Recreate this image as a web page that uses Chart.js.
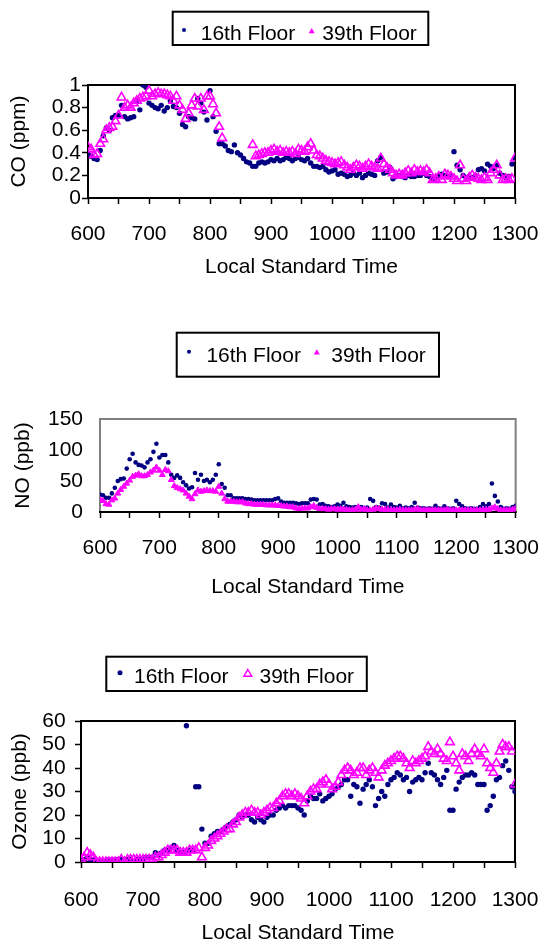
<!DOCTYPE html>
<html>
<head>
<meta charset="utf-8">
<script src="https://cdn.jsdelivr.net/npm/chart.js@4.4.1/dist/chart.umd.min.js"></script>
<style>
  html, body { margin: 0; padding: 0; background: #fff; overflow: hidden; }
  body { width: 541px; height: 943px; position: relative; }
  canvas { position: absolute; left: 0; }
</style>
</head>
<body>
<canvas id="coChart" width="541" height="300" style="top:0px"></canvas>
<canvas id="noChart" width="541" height="300" style="top:320px"></canvas>
<canvas id="o3Chart" width="541" height="320" style="top:630px"></canvas>
<script>
// sample times (local standard time, hhmm-like axis)
const times = [
    600, 605, 610, 615, 620, 625, 630, 635, 640, 645, 650, 655, 660, 665, 670, 675, 680, 685, 690, 695,
    700, 705, 710, 715, 720, 725, 730, 735, 740, 745, 750, 755, 760, 765, 770, 775, 780, 785, 790, 795,
    800, 805, 810, 815, 820, 825, 830, 835, 840, 845, 850, 855, 860, 865, 870, 875, 880, 885, 890, 895,
    900, 905, 910, 915, 920, 925, 930, 935, 940, 945, 950, 955, 960, 965, 970, 975, 980, 985, 990, 995,
    1000, 1005, 1010, 1015, 1020, 1025, 1030, 1035, 1040, 1045, 1050, 1055, 1060, 1065, 1070, 1075, 1080, 1085, 1090, 1095,
    1100, 1105, 1110, 1115, 1120, 1125, 1130, 1135, 1140, 1145, 1150, 1155, 1160, 1165, 1170, 1175, 1180, 1185, 1190, 1195,
    1200, 1205, 1210, 1215, 1220, 1225, 1230, 1235, 1240, 1245, 1250, 1255, 1260, 1265, 1270, 1275, 1280, 1285, 1290, 1295,
    1300
];

// CO (ppm)
const co16 = [
    .39, .37, .35, .34, .42, .55, .62, .60, .71, .73, .73, .82, .72, .70, .71, .72, .86, .78, 1.0, .98,
    .84, .82, .80, .79, .82, .77, .80, .86, .81, .80, .75, .65, .63, .72, .71, .70, .88, .84, .76, .69,
    .95, .72, .59, .48, .48, .46, .42, .41, .47, .40, .38, .35, .32, .31, .28, .28, .31, .32, .31, .32,
    .34, .33, .35, .33, .34, .36, .35, .33, .35, .36, .34, .33, .35, .31, .28, .28, .27, .28, .25, .23,
    .24, .25, .21, .22, .21, .19, .20, .22, .20, .22, .18, .20, .22, .21, .20, .33, .36, .22, .23, .27,
    .17, .19, .20, .19, .18, .20, .19, .19, .20, .20, .22, .20, .19, .17, .18, .20, .21, .20, .19, .20,
    .41, .29, .25, .20, .18, .19, .18, .20, .25, .26, .24, .30, .28, .26, .29, .22, .20, .18, .19, .30,
    .35
];
const co39 = [
    .45, .43, .38, .39, .48, .52, .60, .62, .63, .68, .73, .89, .80, .82, .80, .84, .86, .88, .89, .90,
    .95, .90, .92, .93, .92, .92, .91, .90, .86, .90, .82, .78, .70, .75, .82, .88, .81, .88, .78, .90,
    .90, .83, .75, .63, .53, null, null, null, null, null, null, null, null, null, .47, .37, .38, .39, .40, .40,
    .42, .43, .41, .42, .40, .41, .40, .41, .39, .43, .42, .41, .45, .48, .42, .38, .37, .35, .33, .32,
    .31, .30, .31, .32, .29, .27, .25, .27, .29, .28, .26, .28, .30, .28, .27, .26, .35, .30, .27, .25,
    .22, .20, .21, .20, .22, .24, .22, .25, .23, .24, .23, .25, .22, .16, .17, .19, .16, .21, .20, .19,
    .17, .15, .29, .17, .15, .18, .20, .18, .17, .16, .18, .16, .22, .25, .29, .20, .16, .17, .16, .17,
    .35
];

// NO (ppb)
const no16 = [
    28, 27, 23, 23, 30, 39, 50, 53, 54, 70, 85, 94, 80, 76, 75, 72, 80, 85, 97, 110,
    88, 92, 92, 80, 60, 55, 59, 55, 48, 43, 38, 40, 63, 52, 60, 50, 52, 48, 52, 60,
    77, 45, 39, 27, 27, 22, 22, 22, 22, 21, 21, 20, 19, 19, 19, 19, 19, 19, 19, 21,
    22, 17, 15, 15, 15, 15, 14, 13, 14, 14, 14, 20, 21, 20, 12, 13, 10, 9, 8, 9,
    12, 10, 15, 9, 8, 7, 8, 7, 8, 6, 7, 21, 18, 8, 7, 14, 13, 7, 12, 8,
    7, 10, 6, 7, 6, 8, 15, 7, 6, 6, 5, 6, 5, 10, 6, 5, 9, 6, 5, 6,
    18, 13, 9, 6, 5, 6, 5, 5, 8, 13, 9, 13, 46, 26, 17, 8, 5, 6, 5, 8,
    10
];
const no39 = [
    20, 18, 13, 12, 19, 22, 30, 36, 41, 46, 51, 57, 59, 61, 58, 58, 60, 64, 67, 72,
    67, 60, 68, 66, 52, 42, 39, 37, 35, 30, 25, 21, 29, 35, 33, 34, 35, 34, 34, 33,
    41, 30, 21, 17, 17, 17, 16, 16, 16, 14, 13, 13, 12, 12, 12, 12, 11, 11, 11, 11,
    10, 10, 9, 9, 8, 8, 6, 5, 6, 6, 6, 8, 10, 7, 5, 5, 5, 4, 5, 5,
    4, 5, 4, 4, 3, 3, 4, 8, 4, 5, 3, 3, 4, 6, 5, 4, 4, 4, 3, 3,
    3, 4, 3, 3, 3, 3, 4, 5, 3, 3, 3, 3, 3, 3, 3, 3, 3, 4, 3, 3,
    3, 3, 3, 3, 3, 3, 3, 3, 3, 3, 4, 4, 6, 8, 5, 3, 3, 3, 3, 4,
    6
];

// Ozone (ppb)
const o316 = [
    1, 1, 2, 1, 1, 0, 0, 0, 0, 1, 0, 1, 1, 1, 1, 1, 1, 0, 1, 1,
    1, 2, 2, 2, 4, 3, 4, 5, 5, 6, 7, 5, 4, 4, 58, 5, 5, 32, 32, 14,
    8, 8, 11, 12, 13, 13, 14, 15, 16, 17, 18, 20, 19, 20, 20, 18, 17, 19, 18, 17,
    19, 20, 20, 22, 23, 24, 23, 24, 24, 24, 23, 22, 20, 26, 28, 27, 27, 29, 26, 27,
    28, 29, 31, 32, 33, 35, 35, 28, 33, 32, 25, 31, 33, 35, 32, 24, 27, 30, 28, 33,
    35, 36, 38, 37, 35, 36, 30, 34, 35, 36, 35, 38, 42, 38, 37, 35, 33, 36, 39, 22,
    22, 31, 34, 36, 37, 37, 38, 37, 33, 33, 33, 22, 24, 28, 35, 36, 41, 43, 39, 32,
    30
];
const o339 = [
    1, 2, 4, 3, 2, 0, 0, 0, 0, 0, 0, 0, 0, 1, 0, 1, 1, 1, 1, 1,
    1, 1, 1, 1, 2, 2, 3, 4, 5, 5, 5, 5, 4, 4, 4, 5, 5, 5, 6, 2,
    6, 7, 9, 10, 11, 12, 13, 14, 14, 16, 17, 19, 20, 21, 21, 22, 21, 21, 20, 21,
    22, 23, 23, 25, 26, 28, 29, 29, 28, 29, 28, 27, 25, 28, 30, 31, 31, 33, 34, 35,
    33, 31, 32, 34, 37, 39, 40, 39, 37, 38, 40, 40, 37, 39, 40, 38, 36, 39, 41, 42,
    43, 44, 45, 45, 44, 42, 40, 43, 42, 43, 44, 45, 49, 47, 46, 48, 46, 44, 43, 51,
    45, 42, 39, 46, 45, 43, 46, 48, 46, 45, 48, 42, 40, 38, 42, 47, 50, 49, 49, 47,
    33
];

const seriesNames = ["16th Floor", "39th Floor"];
const xTitle = "Local Standard Time";

const NAVY = "#000080";
const PINK = "#FF00FF";
const FONT = "'Liberation Sans', Arial, Helvetica, sans-serif";

Chart.defaults.font.family = FONT;
Chart.defaults.font.size = 21;
Chart.defaults.color = "#000";

function toPoints(values) {
    return times.map((t, i) => ({ x: t, y: values[i] }));
}

function drawMarker(ctx, style, x, y, r) {
    ctx.beginPath();
    if (style === "triangle") {
        ctx.moveTo(x, y - r);
        ctx.lineTo(x + 0.866 * r, y + 0.5 * r);
        ctx.lineTo(x - 0.866 * r, y + 0.5 * r);
        ctx.closePath();
    } else {
        ctx.arc(x, y, r, 0, Math.PI * 2);
    }
}

// excel-like framed plot area
function makeFrame(color, axisColor) {
    return {
        id: "plotFrame",
        beforeDatasetsDraw(chart) {
            const { left, top, right, bottom } = chart.chartArea;
            const ctx = chart.ctx;
            ctx.save();
            ctx.lineWidth = 2;
            ctx.strokeStyle = color;
            ctx.strokeRect(left, top, right - left, bottom - top);
            ctx.strokeStyle = axisColor;
            ctx.beginPath();
            ctx.moveTo(left - 1, bottom);
            ctx.lineTo(right + 1, bottom);
            ctx.stroke();
            ctx.restore();
        }
    };
}

// boxed legend like the original
function makeLegend(cfg) {
    return {
        id: "boxLegend",
        afterDraw(chart) {
            const ctx = chart.ctx;
            ctx.save();
            ctx.lineWidth = 2;
            ctx.strokeStyle = "#000";
            ctx.strokeRect(cfg.box[0], cfg.box[1], cfg.box[2], cfg.box[3]);
            ctx.font = "21px " + FONT;
            ctx.textBaseline = "alphabetic";
            chart.data.datasets.forEach((ds, i) => {
                const it = cfg.items[i];
                drawMarker(ctx, ds.pointStyle, it.mx, it.my, it.r);
                if (it.hollow) {
                    ctx.lineWidth = 1.5;
                    ctx.strokeStyle = ds.borderColor;
                    ctx.stroke();
                } else {
                    ctx.fillStyle = ds.borderColor;
                    ctx.fill();
                }
                ctx.fillStyle = "#000";
                ctx.fillText(ds.label, it.tx, cfg.baseline);
            });
            ctx.restore();
        }
    };
}

// small tick padding keeps the right edge free; line height pushes labels down
function xScale(lineHeight, height) {
    return {
        type: "linear",
        min: 600,
        max: 1300,
        ticks: {
            stepSize: 50,
            autoSkip: false,
            maxRotation: 0,
            minRotation: 0,
            padding: 2,
            font: { lineHeight: lineHeight },
            callback: v => (v % 100 === 0 ? String(v) : "")
        },
        grid: { drawOnChartArea: false, drawTicks: true, tickLength: 6, tickColor: "#000", tickWidth: 1.5 },
        border: { display: false },
        title: { display: true, text: xTitle, padding: { top: 4, bottom: 4 } },
        afterFit: s => { s.height = height; }
    };
}

function yScale(title, max, step, o) {
    return {
        type: "linear",
        min: 0,
        max: max,
        ticks: {
            stepSize: step,
            autoSkip: false,
            padding: o.pad,
            callback: v => String(Math.round(v * 10) / 10)
        },
        grid: { drawOnChartArea: false, drawTicks: o.ticks, tickLength: 6, tickColor: "#000", tickWidth: 1.5 },
        border: { display: false },
        title: { display: true, text: title, padding: { top: o.titlePad, bottom: 0 } },
        afterFit: s => { s.width = o.width; }
    };
}

function makeChart(id, cfg) {
    return new Chart(document.getElementById(id), {
        type: "scatter",
        data: {
            datasets: [{
                label: seriesNames[0],
                data: toPoints(cfg.lower),
                pointStyle: "circle",
                pointRadius: cfg.navyR,
                backgroundColor: NAVY,
                borderColor: NAVY,
                borderWidth: 0,
                order: 2
            }, {
                label: seriesNames[1],
                data: toPoints(cfg.upper),
                pointStyle: "triangle",
                pointRadius: cfg.pinkR,
                backgroundColor: cfg.pinkHollow ? "rgba(255,255,255,0)" : PINK,
                borderColor: PINK,
                borderWidth: cfg.pinkLine,
                order: 1
            }]
        },
        options: {
            responsive: false,
            animation: false,
            events: [],
            layout: { padding: cfg.padding },
            plugins: {
                legend: { display: false },
                tooltip: { enabled: false }
            },
            scales: {
                x: xScale(cfg.xLine, cfg.xHeight),
                y: yScale(cfg.yTitle, cfg.yMax, cfg.yStep, cfg.y)
            }
        },
        plugins: [makeFrame(cfg.frame, "#000"), makeLegend(cfg.legend)]
    });
}

makeChart("coChart", {
    lower: co16, upper: co39,
    navyR: 2.7, pinkR: 5, pinkHollow: true, pinkLine: 1.6,
    padding: { top: 85, right: 26, bottom: 16.4, left: 0 },
    xLine: 2.7, xHeight: 85.6,
    yTitle: "CO (ppm)", yMax: 1, yStep: 0.2,
    y: { pad: 1, ticks: true, titlePad: 6.4, width: 88 },
    frame: "#000",
    legend: {
        box: [172.7, 11.7, 255.6, 33.3], baseline: 40,
        items: [
            { mx: 184, my: 30, r: 2, hollow: false, tx: 200.7 },
            { mx: 311.7, my: 31.5, r: 3.5, hollow: false, tx: 322.3 }
        ]
    }
});

makeChart("noChart", {
    lower: no16, upper: no39,
    navyR: 2.3, pinkR: 3.4, pinkHollow: false, pinkLine: 1,
    padding: { top: 99, right: 25, bottom: 16.4, left: 0 },
    xLine: 2.65, xHeight: 91.6,
    yTitle: "NO (ppb)", yMax: 150, yStep: 50,
    y: { pad: 17, ticks: false, titlePad: 10.7, width: 100 },
    frame: "#808080",
    legend: {
        box: [176.7, 12.7, 262.3, 44], baseline: 41.7,
        items: [
            { mx: 189, my: 31.7, r: 2, hollow: false, tx: 206.4 },
            { mx: 316.8, my: 32.7, r: 3.5, hollow: false, tx: 331.3 }
        ]
    }
});

makeChart("o3Chart", {
    lower: o316, upper: o339,
    navyR: 2.7, pinkR: 5, pinkHollow: true, pinkLine: 1.6,
    padding: { top: 91, right: 26, bottom: 0, left: 0 },
    xLine: 2.9, xHeight: 88,
    yTitle: "Ozone (ppb)", yMax: 60, yStep: 10,
    y: { pad: 9.4, ticks: true, titlePad: 7.3, width: 81 },
    frame: "#000",
    legend: {
        box: [106.3, 26.7, 260.5, 34.3], baseline: 53.3,
        items: [
            { mx: 120, my: 42.7, r: 2.5, hollow: false, tx: 134 },
            { mx: 247.8, my: 44, r: 4.5, hollow: true, tx: 259.5 }
        ]
    }
});
</script>
</body>
</html>
